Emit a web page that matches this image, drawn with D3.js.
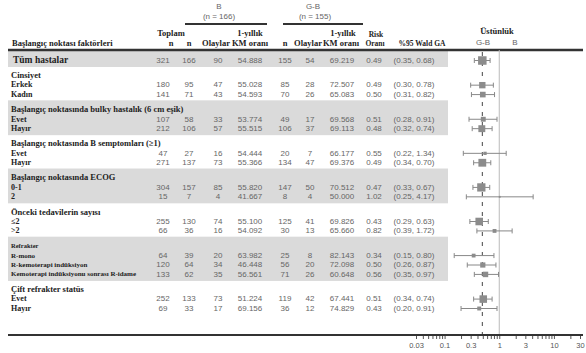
<!DOCTYPE html>
<html>
<head>
<meta charset="utf-8">
<script src="https://cdn.jsdelivr.net/npm/d3@7"></script>
<style>
  body { margin: 0; background: #fff; }
  .lbl { font-family: "Liberation Serif", serif; font-weight: bold; fill: #222; }
  .num { font-family: "Liberation Sans", Arial, sans-serif; fill: #666; font-size: 8px; }
  .axis text { font-family: "Liberation Sans", Arial, sans-serif; fill: #555; font-size: 7.5px; }
  .axis line { stroke: #555; }
</style>
</head>
<body>
<div id="chart"></div>
<script>
// row labels and level (total / group header / subgroup)
const rowLabels = [
  "Tüm hastalar",
  "Cinsiyet", "Erkek", "Kadın",
  "Başlangıç noktasında bulky hastalık (6 cm eşik)", "Evet", "Hayır",
  "Başlangıç noktasında B semptomları (≥1)", "Evet", "Hayır",
  "Başlangıç noktasında ECOG", "0-1", "2",
  "Önceki tedavilerin sayısı", "≤2", ">2",
  "Refrakter", "R-mono", "R-kemoterapi indüksiyon", "Kemoterapi indüksiyonu sonrası R-idame",
  "Çift refrakter statüs", "Evet", "Hayır"
];
const rowLevel = [
  "total",
  "group", "sub", "sub",
  "group", "sub", "sub",
  "group", "sub", "sub",
  "group", "sub", "sub",
  "group", "sub", "sub",
  "groupSm", "subSm", "subSm", "subSm",
  "group", "sub", "sub"
];
const groupShaded = [true, false, true, false, true, false, true, false];

// values for data rows only (total row + subgroups), in order
const totalN = [321, 180, 141, 107, 212, 47, 271, 304, 15, 255, 66, 64, 120, 133, 252, 69];
const bN     = [166, 95, 71, 58, 106, 27, 137, 157, 7, 130, 36, 39, 64, 62, 133, 33];
const bEv    = [90, 47, 43, 33, 57, 16, 73, 85, 4, 74, 16, 20, 34, 35, 73, 17];
const bKM    = ["54.888", "55.028", "54.593", "53.774", "55.515", "54.444", "55.366", "55.820", "41.667", "55.100", "54.092", "63.982", "46.448", "56.561", "51.224", "69.156"];
const gbN    = [155, 85, 70, 49, 106, 20, 134, 147, 8, 125, 30, 25, 56, 71, 119, 36];
const gbEv   = [54, 28, 26, 17, 37, 7, 47, 50, 4, 41, 13, 8, 20, 26, 42, 12];
const gbKM   = ["69.219", "72.507", "65.083", "69.568", "69.113", "66.177", "69.376", "70.512", "50.000", "69.826", "65.660", "82.143", "72.098", "60.648", "67.441", "74.829"];
const hr     = [0.49, 0.49, 0.50, 0.51, 0.48, 0.55, 0.49, 0.47, 1.02, 0.43, 0.82, 0.34, 0.50, 0.56, 0.51, 0.43];
const ciLo   = [0.35, 0.30, 0.31, 0.28, 0.32, 0.22, 0.34, 0.33, 0.25, 0.29, 0.39, 0.15, 0.26, 0.35, 0.34, 0.20];
const ciHi   = [0.68, 0.78, 0.82, 0.91, 0.74, 1.34, 0.70, 0.67, 4.17, 0.63, 1.72, 0.80, 0.87, 0.97, 0.74, 0.91];

const axisTicks = [0.03, 0.04, 0.05, 0.06, 0.07, 0.08, 0.09, 0.1, 0.2, 0.3, 0.4, 0.5, 0.6, 0.7, 0.8, 0.9, 1,
  2, 3, 4, 5, 6, 7, 8, 9, 10, 20, 30];
const axisLabels = [0.03, 0.1, 0.3, 1, 3, 10, 30];

const width = 586, height = 353;
const svg = d3.select("#chart").append("svg")
  .attr("width", width).attr("height", height);

// build rows: slot position, with extra gap before each group header
let slot = -1, g = -1, di = 0;
const rows = rowLabels.map((label, i) => {
  const lvl = rowLevel[i];
  const isHead = lvl === "group" || lvl === "groupSm" || lvl === "total";
  slot += 1;
  if (isHead && i > 0) slot += 0.62;
  if (isHead) g += 1;
  const hasData = lvl !== "group" && lvl !== "groupSm";
  const r = { label, lvl, slot, group: g, d: hasData ? di : null };
  if (hasData) di++;
  return r;
});

const y = d3.scaleLinear().domain([0, d3.max(rows, r => r.slot)]).range([60, 308]);
const x = d3.scaleLog().domain([0.03, 30]).range([416, 580]);
const size = d3.scaleSqrt().domain([0, 321]).range([0, 8.5]);

// shaded bands
const groups = d3.groups(rows, r => r.group);
svg.selectAll(".band").data(groups.filter(gr => groupShaded[gr[0]])).enter()
  .append("rect")
  .attr("x", 8).attr("width", 440)
  .attr("y", gr => y(gr[1][0].slot) - 9)
  .attr("height", gr => y(gr[1][gr[1].length - 1].slot) - y(gr[1][0].slot) + 16)
  .attr("fill", "#dadada");

// column headers
function txt(xp, yp, s, cls, fs, anchor) {
  return svg.append("text").attr("x", xp).attr("y", yp).attr("class", cls)
    .attr("font-size", fs).attr("text-anchor", anchor || "middle").text(s);
}
txt(219, 9, "B", "num", 8);
txt(219, 19, "(n = 166)", "num", 7);
txt(313, 9, "G-B", "num", 8);
txt(315, 19, "(n = 155)", "num", 7);
svg.append("line").attr("x1", 185).attr("x2", 267).attr("y1", 24).attr("y2", 24)
  .attr("stroke", "#333").attr("stroke-width", 2);
svg.append("line").attr("x1", 283).attr("x2", 363).attr("y1", 24).attr("y2", 24)
  .attr("stroke", "#333").attr("stroke-width", 2);

txt(12, 46, "Başlangıç noktası faktörleri", "lbl", 8.5, "start");
txt(171, 36, "Toplam", "lbl", 8.5);
txt(171, 46, "n", "lbl", 8.5);
txt(189, 46, "n", "lbl", 8.5);
txt(216, 46, "Olaylar", "lbl", 8.5);
txt(250, 36, "1-yıllık", "lbl", 8.5);
txt(250, 46, "KM oranı", "lbl", 8.5);
txt(285, 46, "n", "lbl", 8.5);
txt(308, 46, "Olaylar", "lbl", 8.5);
txt(343, 36, "1-yıllık", "lbl", 8.5);
txt(341, 46, "KM oranı", "lbl", 8.5);
txt(376, 37, "Risk", "lbl", 7.5);
txt(375, 46, "Oranı", "lbl", 7.5);
txt(422, 46, "%95 Wald GA", "lbl", 7.5);
txt(497, 34, "Üstünlük", "lbl", 8.5);
txt(483, 45, "G-B", "num", 8).attr("fill", "#444");
txt(515, 45, "B", "num", 8).attr("fill", "#444");

// top and bottom rules
svg.append("line").attr("x1", 8).attr("x2", 583).attr("y1", 50).attr("y2", 50)
  .attr("stroke", "#333").attr("stroke-width", 2.5);

// reference lines
svg.append("line").attr("x1", x(1)).attr("x2", x(1)).attr("y1", 50).attr("y2", 335)
  .attr("stroke", "#bbb").attr("stroke-width", 1);
svg.append("line").attr("x1", x(hr[0])).attr("x2", x(hr[0])).attr("y1", 52).attr("y2", 335)
  .attr("stroke", "#444").attr("stroke-width", 1).attr("stroke-dasharray", "4,6");

// row labels
const fontFor = { total: 9.5, group: 8.5, sub: 8, groupSm: 6.5, subSm: 7 };
svg.selectAll(".rowlbl").data(rows).enter().append("text")
  .attr("class", "lbl")
  .attr("x", r => r.lvl === "total" ? 13 : 11)
  .attr("y", r => y(r.slot))
  .attr("dy", "0.35em")
  .attr("font-size", r => fontFor[r.lvl])
  .text(r => r.label);

// numeric columns
const dataRows = rows.filter(r => r.d !== null);
const cols = [
  [163, totalN], [189, bN], [218, bEv], [250, bKM],
  [285, gbN], [310, gbEv], [342, gbKM],
  [374, hr.map(v => v.toFixed(2))],
  [414, ciLo.map((v, i) => "(" + v.toFixed(2) + ", " + ciHi[i].toFixed(2) + ")")]
];
cols.forEach(([cx, vals]) => {
  svg.append("g").selectAll("text").data(dataRows).enter().append("text")
    .attr("class", "num")
    .attr("text-anchor", "middle")
    .attr("x", cx)
    .attr("y", r => y(r.slot))
    .attr("dy", "0.35em")
    .text(r => vals[r.d]);
});

// forest marks
const marks = svg.append("g").selectAll("g").data(dataRows).enter().append("g")
  .attr("transform", r => "translate(0," + (y(r.slot) + 0.5) + ")");
marks.append("line")
  .attr("x1", r => x(ciLo[r.d])).attr("x2", r => x(ciHi[r.d]))
  .attr("stroke", "#888");
marks.append("line")
  .attr("x1", r => x(ciLo[r.d])).attr("x2", r => x(ciLo[r.d]))
  .attr("y1", -2.5).attr("y2", 2.5).attr("stroke", "#888");
marks.append("line")
  .attr("x1", r => x(ciHi[r.d])).attr("x2", r => x(ciHi[r.d]))
  .attr("y1", -2.5).attr("y2", 2.5).attr("stroke", "#888");
marks.append("rect")
  .attr("x", r => x(hr[r.d]) - size(totalN[r.d]) / 2)
  .attr("y", r => -size(totalN[r.d]) / 2)
  .attr("width", r => size(totalN[r.d]))
  .attr("height", r => size(totalN[r.d]))
  .attr("fill", "#8c8c8c");

// bottom rule + axis
svg.append("line").attr("x1", 8).attr("x2", 583).attr("y1", 335).attr("y2", 335)
  .attr("stroke", "#333").attr("stroke-width", 2);
svg.append("g").attr("class", "axis")
  .attr("transform", "translate(0,336)")
  .call(d3.axisBottom(x).tickValues(axisTicks).tickSize(3).tickPadding(4)
    .tickFormat(v => axisLabels.includes(v) ? String(v) : ""))
  .call(a => a.select(".domain").remove());
</script>
</body>
</html>
